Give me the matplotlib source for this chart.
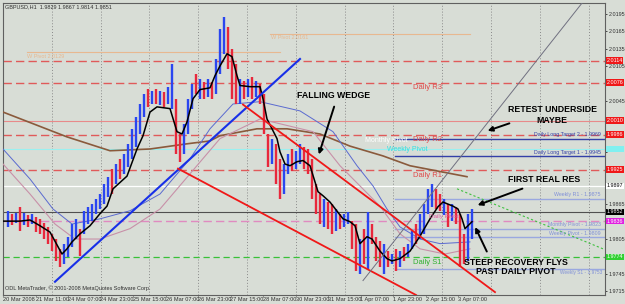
import numpy as np
import matplotlib.pyplot as plt

plt.rcParams['font.family'] = ['Liberation Sans', 'DejaVu Sans']

# GBPUSD H1, one bar every 2 hours
bar_high = [1.9854, 1.9849, 1.9850, 1.9861, 1.9850, 1.9847, 1.9849, 1.9843, 1.9840, 1.9833,
            1.9826, 1.9814, 1.9805, 1.9788, 1.9797, 1.9809, 1.9831, 1.9840, 1.9823, 1.9854,
            1.9861, 1.9866, 1.9875, 1.9883, 1.9901, 1.9913, 1.9927, 1.9935, 1.9944, 1.9953,
            1.9970, 1.9996, 2.0017, 2.0039, 2.0057, 2.0065, 2.0062, 2.0065, 2.0062, 2.0060,
            2.0069, 2.0109, 2.0048, 1.9987, 2.0005, 2.0048, 2.0074, 2.0091, 2.0083, 2.0077,
            2.0083, 2.0077, 2.0117, 2.0169, 2.0190, 2.0173, 2.0135, 2.0109, 2.0083, 2.0079,
            2.0083, 2.0086, 2.0079, 2.0074, 2.0057, 1.9987, 1.9979, 1.9970, 1.9944, 1.9935,
            1.9953, 1.9961, 1.9958, 1.9970, 1.9965, 1.9961, 1.9944, 1.9901, 1.9883, 1.9875,
            1.9869, 1.9866, 1.9857, 1.9849, 1.9849, 1.9852, 1.9836, 1.9831, 1.9805, 1.9823,
            1.9852, 1.9831, 1.9809, 1.9802, 1.9797, 1.9784, 1.9779, 1.9788, 1.9784, 1.9791,
            1.9797, 1.9819, 1.9831, 1.9849, 1.9866, 1.9892, 1.9901, 1.9892, 1.9883, 1.9875,
            1.9866, 1.9866, 1.9861, 1.9849, 1.9814, 1.9849, 1.9857]
bar_low = [1.9826, 1.9830, 1.9833, 1.9819, 1.9830, 1.9826, 1.9831, 1.9817, 1.9814, 1.9805,
           1.9797, 1.9784, 1.9767, 1.9757, 1.9762, 1.9774, 1.9791, 1.9805, 1.9776, 1.9814,
           1.9831, 1.9836, 1.9849, 1.9857, 1.9866, 1.9878, 1.9883, 1.9901, 1.9909, 1.9918,
           1.9930, 1.9944, 1.9965, 1.9987, 2.0017, 2.0034, 2.0039, 2.0039, 2.0037, 2.0034,
           2.0039, 2.0031, 1.9953, 1.9939, 1.9953, 1.9987, 2.0031, 2.0057, 2.0048, 2.0048,
           2.0051, 2.0048, 2.0057, 2.0091, 2.0126, 2.0100, 2.0048, 2.0039, 2.0039, 2.0048,
           2.0051, 2.0048, 2.0051, 2.0039, 1.9987, 1.9930, 1.9935, 1.9901, 1.9875, 1.9883,
           1.9918, 1.9923, 1.9927, 1.9935, 1.9927, 1.9918, 1.9875, 1.9849, 1.9831, 1.9826,
           1.9823, 1.9814, 1.9819, 1.9823, 1.9826, 1.9831, 1.9788, 1.9750, 1.9745, 1.9762,
           1.9753, 1.9797, 1.9767, 1.9757, 1.9745, 1.9757, 1.9762, 1.9750, 1.9757, 1.9767,
           1.9774, 1.9788, 1.9797, 1.9805, 1.9814, 1.9849, 1.9861, 1.9857, 1.9854, 1.9847,
           1.9826, 1.9836, 1.9831, 1.9757, 1.9762, 1.9767, 1.9805]
bar_dir = ("ududududdd" "dddduuuudu" "uuuuuududu" "uuuuududud" "uudduuudud" "uduuudddud"
           "ududdduddu" "uduudddddu" "dduduuddud" "udddududud" "uuduuuuddu" "duddduu")

# moving averages (hour, price)
ma_fast_t = [0, 3.5, 8.5, 13.5, 18.5, 23.5, 29.5, 32, 34.5, 38.5, 43.5, 48.5, 52, 55, 62, 67, 70,
             73.5, 77, 83.5, 87, 89.5, 92, 95, 98.5, 103.5, 106, 108.5, 112, 114.5, 117, 118.5,
             123.5, 128.5, 130, 132, 134.5, 137, 138.5, 141, 143.5, 147, 150, 153.5, 156, 157.5,
             160, 163.5, 170, 173.5, 176, 178.5, 182, 184.5, 188.5, 192, 194.5, 198.5, 203.5,
             208.5, 213.5, 217.5, 220, 225, 227.5, 229.5, 231, 234.5]
ma_fast_p = [1.9836, 1.9836, 1.9836, 1.9838, 1.9828, 1.9817, 1.9779, 1.9788, 1.9800, 1.9814,
             1.9828, 1.9849, 1.9862, 1.9892, 1.9914, 1.9961, 1.9984, 2.0025, 2.0034, 2.0031,
             1.9991, 1.9987, 2.0008, 2.0048, 2.0064, 2.0067, 2.0088, 2.0105, 2.0126, 2.0121,
             2.0088, 2.0071, 2.0069, 2.0069, 2.0048, 2.0013, 1.9996, 1.9979, 1.9956, 1.9935,
             1.9932, 1.9939, 1.9941, 1.9932, 1.9904, 1.9887, 1.9880, 1.9869, 1.9840, 1.9835,
             1.9828, 1.9797, 1.9809, 1.9805, 1.9784, 1.9771, 1.9767, 1.9771, 1.9784, 1.9810,
             1.9840, 1.9861, 1.9869, 1.9862, 1.9857, 1.9840, 1.9823, 1.9835]
ma_slow_t = [0, 32, 53.5, 73.5, 92, 103.5, 108.5, 127, 142, 158.5, 173.5, 190, 203.5, 232]
ma_slow_p = [2.0025, 1.9982, 1.9958, 1.9961, 1.9970, 1.9975, 1.9984, 1.9996, 1.9996, 1.9987,
             1.9966, 1.9949, 1.9932, 1.9913]
band_up_t = [0, 13.5, 25, 34.5, 48.5, 63.5, 78.5, 93.5, 103.5, 115, 128.5, 148.5, 165, 177,
             185, 192, 198.5, 208.5, 218.5, 233.5]
band_up_p = [1.9961, 1.9909, 1.9857, 1.9831, 1.9840, 1.9854, 1.9883, 1.9944, 1.9996, 2.0039,
             2.0043, 2.0027, 1.9991, 1.9932, 1.9897, 1.9857, 1.9826, 1.9805, 1.9797, 1.9800]
band_lo_t = [0, 13.5, 26, 36, 48.5, 63.5, 78.5, 93.5, 108.5, 128.5, 155, 168.5, 178.5, 188.5,
             198.5, 208.5, 221, 233.5]
band_lo_p = [1.9935, 1.9883, 1.9831, 1.9805, 1.9805, 1.9823, 1.9857, 1.9918, 1.9979, 2.0013,
             1.9991, 1.9932, 1.9897, 1.9862, 1.9814, 1.9788, 1.9779, 1.9788]

# trend lines (start hour, start price, end hour, end price)
support_line = (26, 1.9731, 148.5, 2.0117)
wedge_upper = (120, 2.0038, 246, 1.9713)
wedge_lower = (87.5, 1.9927, 206.5, 1.9708)
retest_line = (180, 1.9733, 290, 2.0216)

# pivot levels
r3, r2, r1 = 2.0076, 1.9986, 1.9925
level_hi = 2.0114
level_mid = 2.0010
weekly_pivot = 1.9961
daily_pivot = 1.9836
s1 = 1.9774
level_black = 1.9852
level_white = 1.9897
target2, target1 = 1.9979, 1.9949
blue_levels = [1.9875, 1.9823, 1.9809, 1.9753]
blue_names = ["Weekly R1 - 1.9875", "Monthly Pivot - 1.9823", "Weekly Pivot - 1.9809",
              "Weekly S1 - 1.9753"]

y_ticks = ["2.0195", "2.0165", "2.0135", "2.0105", "2.0075", "2.0045", "2.0015", "1.9985",
           "1.9955", "1.9925", "1.9895", "1.9865", "1.9835", "1.9805", "1.9775", "1.9745", "1.9715"]
x_labels = ["20 Mar 2008", "21 Mar 11:00", "24 Mar 07:00", "24 Mar 23:00", "25 Mar 15:00",
            "26 Mar 07:00", "26 Mar 23:00", "27 Mar 15:00", "28 Mar 07:00", "30 Mar 23:00",
            "31 Mar 15:00", "1 Apr 07:00", "1 Apr 23:00", "2 Apr 15:00", "3 Apr 07:00"]

bg = '#d8ddd6'
fig = plt.figure(figsize=(6.25, 3.04), dpi=100)
fig.patch.set_facecolor(bg)
ax = fig.add_axes([3 / 625, 9 / 304, 602 / 625, 292 / 304])
ax.set_facecolor(bg)
ax.set_xlim(0, 301)
ax.set_ylim(1.9708, 2.0214)

for g in np.arange(1, 13) * 24.4:
    ax.axvline(g, color='#8a8a8a', lw=0.7, ls=(0, (1, 2)), zorder=1)

# horizontal levels
dash = (0, (6, 3))
ax.axhline(level_hi, color='#e05a5a', lw=1, ls=dash, zorder=2)
ax.axhline(r3, color='#e05a5a', lw=1, ls=dash, zorder=2)
ax.axhline(level_mid, color='#e88a8a', lw=0.8, zorder=2)
ax.axhline(r2, color='#e05a5a', lw=1, ls=dash, zorder=2)
ax.axhline(weekly_pivot, color='#9af0f0', lw=0.8, zorder=2)
ax.axhline(r1, color='#e05a5a', lw=1, ls=dash, zorder=2)
ax.axhline(level_white, color='white', lw=0.9, zorder=2)
ax.axhline(level_black, color='#505050', lw=0.8, zorder=2)
ax.axhline(daily_pivot, color='#e08ac0', lw=1, ls=dash, zorder=2)
ax.axhline(s1, color='#38c038', lw=0.9, ls=(0, (5, 3)), zorder=2)
ax.plot([196, 301], [target2, target2], color='#3340a8', lw=1, zorder=2)
ax.plot([196, 301], [target1, target1], color='#3340a8', lw=1, zorder=2)
for lv in blue_levels:
    ax.plot([196, 301], [lv, lv], color='#9aa8e0', lw=1, zorder=2)
ax.plot([12, 138.5], [2.0129, 2.0129], color='#e8b890', lw=0.8, zorder=2)
ax.plot([133.5, 233.5], [2.0161, 2.0161], color='#e8b890', lw=0.8, zorder=2)

# moving averages
ax.plot(ma_slow_t, ma_slow_p, color='#8a5a3c', lw=1.2, zorder=3)
ax.plot(band_up_t, band_up_p, color='#5a6ad0', lw=0.7, zorder=3)
ax.plot(band_lo_t, band_lo_p, color='#c890a8', lw=0.8, zorder=3)

# bars
t = 2.5 + 2 * np.arange(len(bar_high))
cols = ['#2a46f0' if d == 'u' else '#e8283c' for d in bar_dir]
ax.vlines(t, bar_low, bar_high, colors=cols, lw=1.7, zorder=4)
ax.plot(ma_fast_t, ma_fast_p, color='black', lw=1.1, zorder=5)

# trend lines
ax.plot(support_line[::2], support_line[1::2], color='#1830e8', lw=1.5, zorder=6)
ax.plot(wedge_upper[::2], wedge_upper[1::2], color='#f01818', lw=1.3, zorder=6)
ax.plot(wedge_lower[::2], wedge_lower[1::2], color='#f01818', lw=1.3, zorder=6)
ax.plot(retest_line[::2], retest_line[1::2], color='#707080', lw=0.7, zorder=6)
ax.plot([227, 300], [1.9892, 1.9788], color='#40c040', lw=0.8, ls=(0, (2, 2)), zorder=6)

# level names
small = dict(fontsize=5.5, zorder=8)
ax.text(205, r3 - 0.0003, "Daily R3", color='#e04848', va='top', **small)
ax.text(205, r2 - 0.0003, "Daily R2", color='#e04848', va='top', **small)
ax.text(205, r1 - 0.0003, "Daily R1", color='#e04848', va='top', **small)
ax.text(205, s1 - 0.0003, "Daily S1", color='#30b030', va='top', **small)
ax.text(213, daily_pivot + 0.0003, "Daily Pivot", color='#e060a0', va='bottom', fontsize=4.5, zorder=8)
ax.text(181, weekly_pivot + 0.0008, "Monthly Pivot", color='white', va='bottom', fontsize=5, zorder=8)
ax.text(192, weekly_pivot, "Weekly Pivot", color='#30e0e0', va='center', fontsize=5, zorder=8)
ax.text(299, target2 + 0.0002, "Daily Long Target 2 - 1.9969", color='#3340a8', ha='right',
        va='bottom', fontsize=3.8, zorder=8)
ax.text(299, target1 + 0.0002, "Daily Long Target 1 - 1.9945", color='#3340a8', ha='right',
        va='bottom', fontsize=3.8, zorder=8)
for lv, nm in zip(blue_levels[:-1], blue_names[:-1]):
    ax.text(299, lv + 0.0002, nm, color='#8090d8', ha='right', va='bottom', fontsize=3.8, zorder=8)
ax.text(299.5, blue_levels[-1] - 0.0002, blue_names[-1], color='#8090d8', ha='right', va='top',
        fontsize=3.4, zorder=8)
ax.text(12, 2.0126, "W Pivot 2.0129", color='#e8b890', va='top', fontsize=4, zorder=8)
ax.text(134, 2.0158, "W Pivot 2.0161", color='#e8b890', va='top', fontsize=4, zorder=8)

# commentary (one text per line so each line keeps its own extent)
note = dict(fontsize=6.3, fontweight='bold', color='black', ha='center', va='center', zorder=9)
ax.text(165.5, 2.0053, "FALLING WEDGE", **note)
ax.text(274.5, 2.0029, "RETEST UNDERSIDE", **note)
ax.text(274.5, 2.0010, "MAYBE", **note)
ax.text(270.5, 1.9909, "FIRST REAL RES", **note)
ax.text(256.5, 1.9765, "STEEP RECOVERY FLYS", **note)
ax.text(256.5, 1.9748, "PAST DAILY PIVOT", **note)
arrow = dict(arrowstyle='-|>', color='black', lw=1.4, mutation_scale=7)
ax.annotate("", xy=(157.5, 1.9947), xytext=(166, 2.0039), arrowprops=arrow, zorder=9)
ax.annotate("", xy=(241, 1.9991), xytext=(254.5, 2.0007), arrowprops=arrow, zorder=9)
ax.annotate("", xy=(236, 1.9862), xytext=(261, 1.9894), arrowprops=arrow, zorder=9)
ax.annotate("", xy=(235.5, 1.9830), xytext=(242.5, 1.9779), arrowprops=arrow, zorder=9)

ax.text(0.004, 0.995, "GBPUSD,H1  1.9829 1.9867 1.9814 1.9851", transform=ax.transAxes,
        fontsize=4, va='top', color='#303030')
ax.text(0.004, 0.012, "ODL MetaTrader, \u00a9 2001-2008 MetaQuotes Software Corp.",
        transform=ax.transAxes, fontsize=4, va='bottom', color='#303030')

# price boxes on the right scale
box_levels = [(level_hi, '#f01818', 'white'), (r3, '#f01818', 'white'),
              (level_mid, '#f01818', 'white'), (r2, '#f01818', 'white'),
              (r1, '#f01818', 'white'), (weekly_pivot, '#80f0f0', '#80f0f0'),
              (level_white, 'white', 'black'), (level_black, 'black', 'white'),
              (daily_pivot, '#e020e0', 'white'), (s1, '#30d030', 'white')]

# axes
ax.yaxis.tick_right()
ax.set_yticks([float(v) for v in y_ticks])
# a tick label sitting under a price box is hidden, as in the terminal
shown = [v if min(abs(float(v) - b[0]) for b in box_levels) > 0.0009 else "" for v in y_ticks]
ax.set_yticklabels(shown)
ax.set_xticks(np.arange(len(x_labels)) * 16.25)
ax.set_xticklabels(x_labels, ha='left')
ax.tick_params(axis='y', labelsize=3.9, length=1.5, width=0.6, colors='#303030', pad=1)
ax.tick_params(axis='x', labelsize=4.1, length=1, width=0.6, colors='#303030', pad=0.3)
for s in ax.spines.values():
    s.set_color('#606060')
    s.set_linewidth(0.8)

for p, fc, tc in box_levels:
    ax.annotate(f"{p:.4f}", xy=(1, p), xycoords=('axes fraction', 'data'), xytext=(1, 0),
                textcoords='offset points', ha='left', va='center', fontsize=3.9, color=tc,
                bbox=dict(boxstyle='square,pad=0.15', fc=fc, ec='none'), annotation_clip=False,
                zorder=20)

fig.savefig('out.png', dpi=100, facecolor=bg)
